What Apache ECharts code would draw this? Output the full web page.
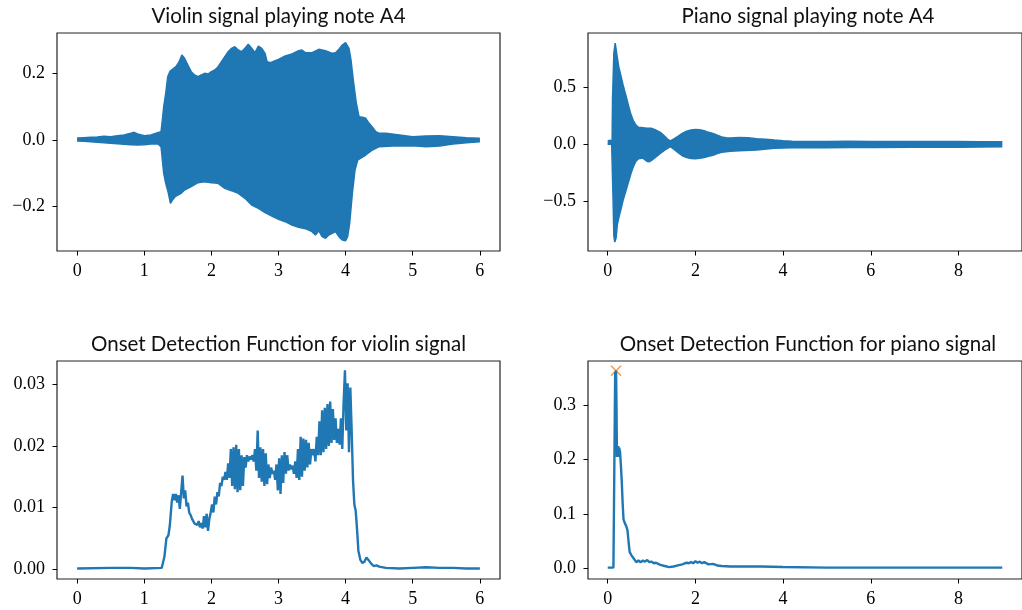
<!DOCTYPE html>
<html>
<head>
<meta charset="utf-8">
<script src="https://cdn.jsdelivr.net/npm/echarts@6/dist/echarts.min.js"></script>
<style>
html, body { margin: 0; padding: 0; background: #fff; }
#main { width: 1022px; height: 610px; }
</style>
</head>
<body>
<div id="main"></div>
<script>
// violin waveform envelope [t, amplitude]
var violinUpper = [[0,0.006],[0.1,0.007],[0.2,0.008],[0.3,0.009],[0.4,0.011],[0.5,0.01],[0.6,0.013],[0.7,0.015],[0.8,0.02],[0.85,0.023],[0.9,0.018],[1.0,0.013],[1.1,0.015],[1.2,0.022],[1.25,0.025],[1.27,0.06],[1.29,0.1],[1.32,0.14],[1.35,0.19],[1.38,0.205],[1.42,0.212],[1.48,0.222],[1.52,0.235],[1.56,0.255],[1.6,0.245],[1.65,0.225],[1.7,0.205],[1.75,0.195],[1.8,0.19],[1.85,0.195],[1.9,0.2],[1.95,0.198],[2.0,0.205],[2.05,0.21],[2.1,0.22],[2.15,0.235],[2.2,0.25],[2.25,0.265],[2.3,0.275],[2.35,0.28],[2.4,0.27],[2.45,0.265],[2.5,0.275],[2.55,0.287],[2.6,0.275],[2.65,0.262],[2.7,0.282],[2.75,0.275],[2.8,0.26],[2.83,0.235],[2.88,0.232],[2.95,0.238],[3.0,0.242],[3.1,0.252],[3.2,0.258],[3.3,0.268],[3.35,0.27],[3.4,0.262],[3.5,0.262],[3.6,0.272],[3.7,0.268],[3.8,0.26],[3.85,0.262],[3.9,0.272],[3.95,0.285],[4.0,0.292],[4.05,0.275],[4.08,0.24],[4.12,0.17],[4.16,0.11],[4.2,0.07],[4.25,0.068],[4.3,0.065],[4.35,0.05],[4.4,0.038],[4.45,0.025],[4.5,0.02],[4.6,0.02],[4.8,0.015],[5.0,0.01],[5.2,0.012],[5.4,0.013],[5.6,0.01],[5.8,0.007],[6.0,0.005]];
var violinLower = [[0,-0.003],[0.1,-0.004],[0.2,-0.005],[0.3,-0.007],[0.4,-0.008],[0.5,-0.01],[0.6,-0.011],[0.7,-0.013],[0.8,-0.014],[0.9,-0.015],[1.0,-0.014],[1.1,-0.012],[1.2,-0.011],[1.25,-0.02],[1.27,-0.06],[1.29,-0.1],[1.32,-0.13],[1.36,-0.16],[1.39,-0.19],[1.42,-0.18],[1.46,-0.17],[1.5,-0.165],[1.55,-0.16],[1.6,-0.15],[1.7,-0.14],[1.8,-0.128],[1.9,-0.125],[2.0,-0.128],[2.1,-0.13],[2.2,-0.145],[2.3,-0.152],[2.4,-0.16],[2.5,-0.175],[2.6,-0.195],[2.7,-0.205],[2.8,-0.218],[2.9,-0.228],[3.0,-0.238],[3.1,-0.245],[3.2,-0.255],[3.3,-0.262],[3.4,-0.266],[3.5,-0.275],[3.55,-0.285],[3.6,-0.272],[3.65,-0.29],[3.7,-0.295],[3.75,-0.285],[3.8,-0.28],[3.85,-0.275],[3.9,-0.29],[3.95,-0.3],[4.0,-0.302],[4.03,-0.29],[4.06,-0.25],[4.1,-0.16],[4.14,-0.09],[4.18,-0.06],[4.22,-0.055],[4.3,-0.045],[4.4,-0.03],[4.5,-0.02],[4.7,-0.018],[5.0,-0.017],[5.2,-0.02],[5.4,-0.018],[5.6,-0.012],[5.8,-0.008],[6.0,-0.005]];

// piano waveform envelope
var pianoUpper = [[0,0.03],[0.05,0.035],[0.09,0.035],[0.1,0.03],[0.11,0.4],[0.14,0.8],[0.17,0.885],[0.19,0.87],[0.21,0.78],[0.25,0.68],[0.3,0.6],[0.35,0.52],[0.42,0.42],[0.48,0.33],[0.53,0.26],[0.58,0.21],[0.64,0.17],[0.7,0.15],[0.8,0.145],[0.9,0.14],[1.0,0.14],[1.1,0.125],[1.2,0.105],[1.3,0.07],[1.38,0.04],[1.43,0.03],[1.5,0.045],[1.6,0.07],[1.7,0.095],[1.8,0.115],[1.9,0.125],[2.0,0.13],[2.1,0.128],[2.2,0.12],[2.3,0.105],[2.4,0.095],[2.5,0.08],[2.6,0.065],[2.7,0.058],[2.8,0.055],[3.0,0.06],[3.2,0.058],[3.4,0.05],[3.6,0.045],[3.8,0.038],[4.0,0.032],[4.2,0.028],[4.5,0.025],[5.0,0.025],[5.5,0.027],[6.0,0.025],[6.5,0.025],[7.0,0.024],[7.5,0.025],[8.0,0.024],[8.5,0.023],[9.0,0.022]];
var pianoLower = [[0,0.005],[0.09,0.003],[0.1,0.0],[0.12,-0.45],[0.14,-0.8],[0.16,-0.855],[0.19,-0.82],[0.22,-0.7],[0.26,-0.63],[0.3,-0.57],[0.35,-0.49],[0.42,-0.4],[0.48,-0.32],[0.53,-0.255],[0.58,-0.2],[0.64,-0.15],[0.7,-0.125],[0.8,-0.12],[0.9,-0.15],[0.95,-0.152],[1.02,-0.135],[1.1,-0.11],[1.2,-0.08],[1.3,-0.05],[1.43,-0.02],[1.5,-0.04],[1.6,-0.07],[1.7,-0.1],[1.8,-0.115],[1.9,-0.123],[2.0,-0.125],[2.1,-0.122],[2.2,-0.115],[2.3,-0.105],[2.4,-0.095],[2.5,-0.08],[2.6,-0.07],[2.8,-0.06],[3.0,-0.055],[3.4,-0.05],[3.8,-0.035],[4.2,-0.03],[4.6,-0.028],[5.0,-0.03],[5.5,-0.028],[6.0,-0.027],[7.0,-0.026],[8.0,-0.025],[9.0,-0.022]];

// onset detection functions
var violinOdf = [[0,0.0001],[0.5,0.0002],[0.8,0.0002],[1.0,0.0001],[1.26,0.0002],[1.3,0.002],[1.33,0.005],[1.36,0.0055],[1.38,0.007],[1.41,0.011],[1.43,0.0122],[1.45,0.0112],[1.47,0.0122],[1.49,0.0108],[1.51,0.012],[1.53,0.0098],[1.55,0.0125],[1.57,0.0152],[1.59,0.0115],[1.61,0.0128],[1.63,0.0102],[1.65,0.0108],[1.67,0.0092],[1.69,0.0088],[1.71,0.0082],[1.73,0.0078],[1.75,0.0074],[1.77,0.0076],[1.79,0.0072],[1.81,0.0078],[1.83,0.0068],[1.85,0.0075],[1.87,0.0066],[1.89,0.0086],[1.91,0.0068],[1.93,0.009],[1.95,0.0062],[1.97,0.0082],[1.99,0.0092],[2.01,0.0105],[2.03,0.0092],[2.05,0.0118],[2.07,0.0105],[2.09,0.0125],[2.11,0.0118],[2.13,0.014],[2.15,0.0135],[2.17,0.015],[2.19,0.0145],[2.21,0.0158],[2.23,0.0145],[2.25,0.0172],[2.27,0.0148],[2.29,0.0195],[2.31,0.0135],[2.33,0.0198],[2.35,0.013],[2.37,0.0202],[2.39,0.0125],[2.41,0.0195],[2.43,0.0128],[2.45,0.0185],[2.47,0.0135],[2.49,0.0182],[2.51,0.0165],[2.53,0.0185],[2.55,0.0175],[2.57,0.0183],[2.59,0.0178],[2.61,0.0185],[2.63,0.0175],[2.65,0.0195],[2.67,0.016],[2.69,0.0225],[2.71,0.0148],[2.73,0.0198],[2.75,0.0142],[2.77,0.0195],[2.79,0.0135],[2.81,0.0188],[2.83,0.0138],[2.85,0.017],[2.87,0.0148],[2.89,0.0165],[2.91,0.0155],[2.93,0.016],[2.95,0.0145],[2.97,0.017],[2.99,0.0128],[3.01,0.018],[3.03,0.0122],[3.05,0.0185],[3.07,0.014],[3.09,0.019],[3.11,0.0155],[3.13,0.0185],[3.15,0.016],[3.17,0.017],[3.19,0.0162],[3.21,0.0168],[3.23,0.0155],[3.25,0.0175],[3.27,0.0148],[3.29,0.0195],[3.31,0.0145],[3.33,0.0215],[3.35,0.015],[3.37,0.0212],[3.39,0.016],[3.41,0.021],[3.43,0.0165],[3.45,0.0205],[3.47,0.017],[3.49,0.0195],[3.51,0.0185],[3.53,0.0195],[3.55,0.0175],[3.57,0.0215],[3.59,0.0185],[3.61,0.024],[3.63,0.0185],[3.65,0.0258],[3.67,0.019],[3.69,0.0262],[3.71,0.0195],[3.73,0.0268],[3.75,0.02],[3.77,0.0272],[3.79,0.0205],[3.81,0.026],[3.83,0.021],[3.85,0.0245],[3.87,0.0205],[3.89,0.0228],[3.91,0.0202],[3.93,0.0245],[3.95,0.0195],[3.97,0.027],[3.99,0.0323],[4.01,0.0225],[4.03,0.0302],[4.05,0.019],[4.07,0.0295],[4.09,0.0225],[4.11,0.0145],[4.13,0.0105],[4.15,0.0095],[4.17,0.0065],[4.19,0.003],[4.22,0.0015],[4.25,0.001],[4.28,0.0012],[4.31,0.0019],[4.34,0.0015],[4.38,0.0009],[4.42,0.0005],[4.46,0.0006],[4.5,0.0004],[4.6,0.0002],[4.8,0.0001],[5.0,0.0002],[5.2,0.0003],[5.4,0.0002],[5.6,0.0002],[5.8,0.0001],[6.0,0.0001]];
var pianoOdf = [[0,0.001],[0.13,0.001],[0.15,0.18],[0.17,0.36],[0.19,0.364],[0.2,0.3],[0.21,0.205],[0.22,0.225],[0.23,0.21],[0.24,0.225],[0.25,0.205],[0.26,0.222],[0.28,0.215],[0.3,0.19],[0.32,0.16],[0.34,0.12],[0.36,0.09],[0.39,0.083],[0.42,0.078],[0.45,0.07],[0.48,0.045],[0.5,0.03],[0.53,0.025],[0.57,0.022],[0.6,0.017],[0.65,0.011],[0.7,0.014],[0.75,0.011],[0.8,0.014],[0.85,0.012],[0.9,0.015],[0.95,0.011],[1.0,0.012],[1.05,0.009],[1.1,0.01],[1.2,0.006],[1.3,0.004],[1.4,0.002],[1.5,0.003],[1.6,0.005],[1.7,0.007],[1.8,0.01],[1.85,0.009],[1.9,0.011],[1.95,0.009],[2.0,0.013],[2.05,0.01],[2.1,0.012],[2.15,0.009],[2.2,0.011],[2.3,0.007],[2.4,0.008],[2.5,0.005],[2.6,0.004],[2.8,0.003],[3.0,0.003],[3.5,0.003],[4.0,0.002],[5.0,0.001],[6.0,0.001],[7.0,0.001],[8.0,0.001],[9.0,0.001]];
var pianoPeak = [[0.19,0.364]];

// tick values
var violinXTicks = [0,1,2,3,4,5,6];
var pianoXTicks = [0,2,4,6,8];
var violinSigTicks = [-0.2,0,0.2];
var pianoSigTicks = [-0.5,0,0.5];
var violinOdfTicks = [0,0.01,0.02,0.03];
var pianoOdfTicks = [0,0.1,0.2,0.3];

var titles = ['Violin signal playing note A4', 'Piano signal playing note A4',
	'Onset Detection Function for violin signal', 'Onset Detection Function for piano signal'];

var blue = '#1f77b4';
var tickFont = 'Liberation Serif';

function fmt(d) {
	return function(v) {
		return v.toFixed(d).replace('-', '\u2212');
	};
}

function xAxisFor(idx, min, max, ticks) {
	return {
		type : 'value', gridIndex : idx, min : min, max : max,
		splitLine : { show : false },
		axisLine : { show : false, onZero : false },
		axisTick : { show : true, length : 4.5, customValues : ticks, lineStyle : { color : '#000' } },
		axisLabel : { customValues : ticks, color : '#000', fontFamily : tickFont, fontSize : 18, margin : 11, formatter : fmt(0) }
	};
}

function yAxisFor(idx, min, max, ticks, d) {
	return {
		type : 'value', gridIndex : idx, min : min, max : max,
		splitLine : { show : false },
		axisLine : { show : false, onZero : false },
		axisTick : { show : true, length : 4.5, customValues : ticks, lineStyle : { color : '#000' } },
		axisLabel : { customValues : ticks, color : '#000', fontFamily : tickFont, fontSize : 18, margin : 12, formatter : fmt(d) }
	};
}

// filled envelope; origin slightly past zero so the two halves overlap without a seam
function band(data, idx, origin) {
	return {
		type : 'line', xAxisIndex : idx, yAxisIndex : idx, data : data,
		showSymbol : false, silent : true,
		lineStyle : { color : blue, width : 1.5 },
		areaStyle : { color : blue, opacity : 1, origin : origin }
	};
}

function curve(data, idx) {
	return {
		type : 'line', xAxisIndex : idx, yAxisIndex : idx, data : data,
		showSymbol : false, silent : true,
		lineStyle : { color : blue, width : 2.4 }
	};
}

var gridBox = { show : true, borderColor : '#222', borderWidth : 1.2, backgroundColor : '#fff' };
var grids = [
	{ left : 57, top : 33, width : 443, height : 218 },
	{ left : 588, top : 33, width : 442, height : 218 },
	{ left : 57, top : 361, width : 443, height : 218 },
	{ left : 588, top : 361, width : 442, height : 218 }
].map(function(g) { return Object.assign({}, gridBox, g); });

var titleGraphics = titles.map(function(t, i) {
	var g = grids[i];
	return {
		type : 'text',
		x : i % 2 === 0 ? 278.5 : 808,
		y : g.top - 17,
		style : { text : t, fill : '#111', font : '20.5px Lato', textAlign : 'center', textVerticalAlign : 'middle' }
	};
});

var myChart = echarts.init(document.getElementById('main'), null, { renderer : 'canvas' });
var option = {
	animation : false,
	backgroundColor : '#fff',
	grid : grids,
	xAxis : [
		xAxisFor(0, -0.3, 6.3, violinXTicks),
		xAxisFor(1, -0.45, 9.45, pianoXTicks),
		xAxisFor(2, -0.3, 6.3, violinXTicks),
		xAxisFor(3, -0.45, 9.45, pianoXTicks)
	],
	yAxis : [
		yAxisFor(0, -0.333, 0.321, violinSigTicks, 1),
		yAxisFor(1, -0.933, 0.974, pianoSigTicks, 1),
		yAxisFor(2, -0.0016, 0.0338, violinOdfTicks, 2),
		yAxisFor(3, -0.02, 0.382, pianoOdfTicks, 1)
	],
	graphic : titleGraphics,
	series : [
		band(violinUpper, 0, -0.002),
		band(violinLower, 0, 0.002),
		band(pianoUpper, 1, -0.005),
		band(pianoLower, 1, 0.005),
		curve(violinOdf, 2),
		curve(pianoOdf, 3),
		{
			type : 'scatter', xAxisIndex : 3, yAxisIndex : 3, data : pianoPeak,
			symbol : 'path://M0,1L1,0L5,4L9,0L10,1L6,5L10,9L9,10L5,6L1,10L0,9L4,5Z',
			symbolSize : 11, silent : true,
			itemStyle : { color : '#ff7f0e' }
		}
	]
};
myChart.setOption(option);
</script>
</body>
</html>
